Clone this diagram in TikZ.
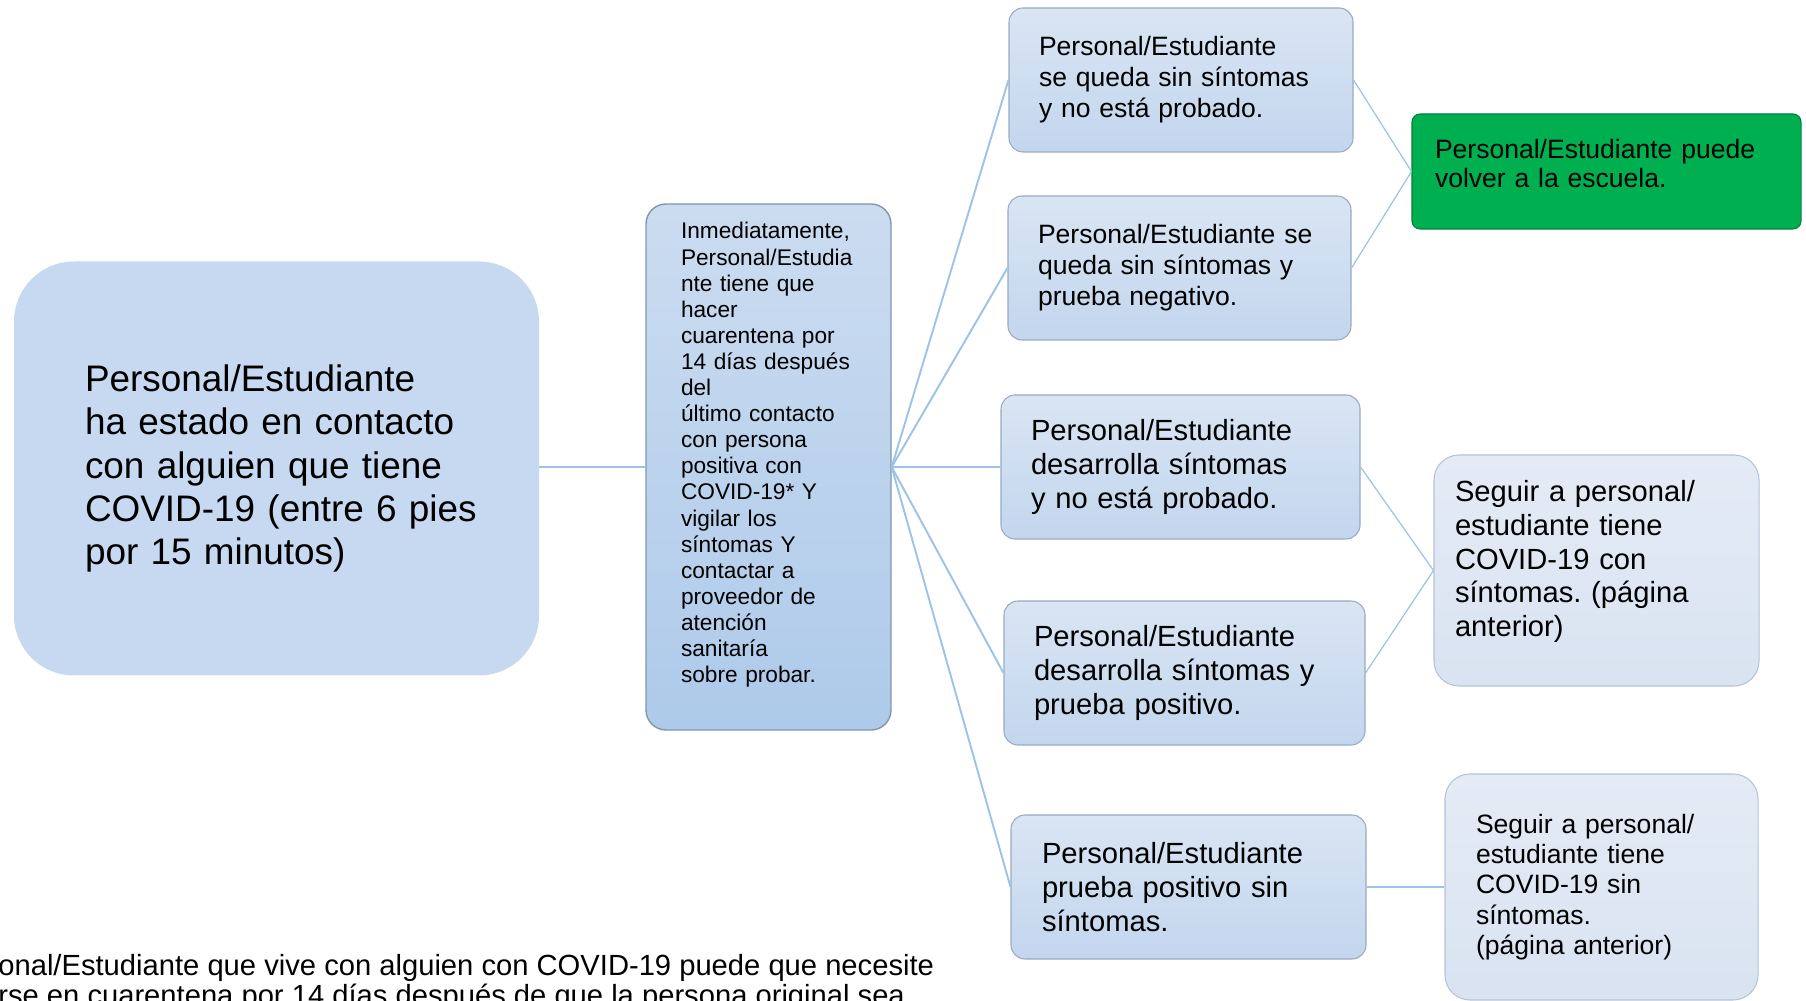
\documentclass[tikz,border=0pt]{standalone}
\usepackage{fontspec}
\setmainfont{Liberation Sans}
\frenchspacing
\usetikzlibrary{arrows}
\definecolor{contactofondo}{HTML}{C6D9F0}
\definecolor{cuarentenaarriba}{HTML}{CBDCF0}
\definecolor{cuarentenaabajo}{HTML}{AECAEA}
\definecolor{cuarentenaborde}{HTML}{8196B0}
\definecolor{estadoarriba}{HTML}{D9E5F3}
\definecolor{estadoabajo}{HTML}{C3D6EE}
\definecolor{estadoborde}{HTML}{9AAAC0}
\definecolor{seguirarriba}{HTML}{E4EBF5}
\definecolor{seguirabajo}{HTML}{D9E3F1}
\definecolor{seguirborde}{HTML}{B4C3D8}
\definecolor{verde}{HTML}{00B050}
\definecolor{verdeborde}{HTML}{00803A}
\definecolor{linea}{HTML}{9DC3E6}
\tikzset{
	estado/.style={
			rounded corners=0.28cm, draw=estadoborde, line width=0.6pt,
			top color=estadoarriba, bottom color=estadoabajo,
			align=left, inner xsep=0.6cm, minimum height=2.88cm
		},
	seguir/.style={
			rounded corners=0.5cm, draw=seguirborde, line width=0.6pt,
			top color=seguirarriba, bottom color=seguirabajo, align=left
		},
	enlace/.style={draw=linea, line width=1.1pt},
	enlacefino/.style={draw=linea, line width=0.7pt}
}

\begin{document}
\begin{tikzpicture}
    \clip (0,0) rectangle (36.12,20);
    \node[fill=contactofondo, rounded corners=1.2cm, align=left, text width=7.66cm, inner xsep=1.42cm, minimum height=8.28cm, font=\fontsize{21}{24.5}\selectfont] (contacto) at (5.53,10.63) {Personal/Estudiante\\ha estado en contacto\\con alguien que tiene\\\mbox{COVID-19 (entre 6 pies}\\por 15 minutos)};
    \node[rounded corners=0.4cm, draw=cuarentenaborde, line width=0.8pt, top color=cuarentenaarriba, bottom color=cuarentenaabajo, align=left, text width=3.5cm, inner xsep=0.7cm, minimum height=10.52cm, text depth=9.45cm, font=\fontsize{12.9}{14.85}\selectfont] (cuarentena) at (15.37,10.66) {Inmediatamente,\\Personal/Estudia\\nte tiene que\\hacer\\cuarentena por\\14 días después\\del\\último contacto\\con persona\\positiva con\\COVID-19* Y\\vigilar los\\síntomas Y\\contactar a\\proveedor de\\atención\\sanitaría\\sobre probar.};
    \node[estado, text width=5.68cm, font=\fontsize{15.1}{17.7}\selectfont] (p1) at (23.62,18.4) {Personal/Estudiante\\se queda sin síntomas\\y no está probado.};
    \node[estado, text width=5.66cm, font=\fontsize{15.1}{17.7}\selectfont] (p2) at (23.59,14.64) {Personal/Estudiante se\\queda sin síntomas y\\prueba negativo.};
    \node[estado, text width=5.98cm, font=\fontsize{16.6}{19.3}\selectfont] (p3) at (23.61,10.66) {Personal/Estudiante\\desarrolla síntomas\\y no está probado.};
    \node[estado, text width=6.02cm, font=\fontsize{16.6}{19.3}\selectfont] (p4) at (23.69,6.54) {Personal/Estudiante\\desarrolla síntomas y\\prueba positivo.};
    \node[estado, text width=5.86cm, inner xsep=0.62cm, font=\fontsize{16.6}{19.3}\selectfont] (p5) at (23.77,2.26) {Personal/Estudiante\\prueba positivo sin\\síntomas.};
    \node[rounded corners=0.16cm, draw=verdeborde, line width=0.6pt, fill=verde, align=left, text width=6.86cm, inner xsep=0.46cm, minimum height=2.3cm, text depth=0.92cm, font=\fontsize{15.1}{17}\selectfont] (volver) at (32.13,16.57) {Personal/Estudiante puede\\volver a la escuela.};
    \node[seguir, text width=5.66cm, inner xsep=0.42cm, minimum height=4.62cm, text depth=3.18cm, font=\fontsize{16.6}{19.2}\selectfont] (seg1) at (31.93,8.59) {Seguir a personal/\\estudiante tiene\\COVID-19 con\\síntomas. (página\\anterior)};
    \node[seguir, text width=5.02cm, inner xsep=0.62cm, minimum height=4.52cm, font=\fontsize{15.1}{17.2}\selectfont] (seg2) at (32.03,2.26) {Seguir a personal/\\estudiante tiene\\COVID-19 sin\\síntomas.\\(página anterior)};
    \node[anchor=base west, align=left, inner sep=0pt, font=\fontsize{16.6}{17.2}\selectfont] (nota) at (-0.04,-0.11) {onal/Estudiante que vive con alguien con COVID-19 puede que necesite\\rse en cuarentena por 14 días después de que la persona original sea};
    \draw[enlace, line width=1.6pt] (cuarentena.west -| contacto.east) -- (cuarentena.west);
    \foreach \p in {p1,p2,p3,p4,p5}
        \draw[enlace] (cuarentena.east) -- (\p.west);
    \draw[enlacefino] (p1.east) -- (volver.west);
    \draw[enlacefino] (p2.east) -- (volver.west);
    \draw[enlacefino] (p3.east) -- (seg1.west);
    \draw[enlacefino] (p4.east) -- (seg1.west);
    \draw[enlace] (p5.east) -- (seg2.west);
\end{tikzpicture}
\end{document}
